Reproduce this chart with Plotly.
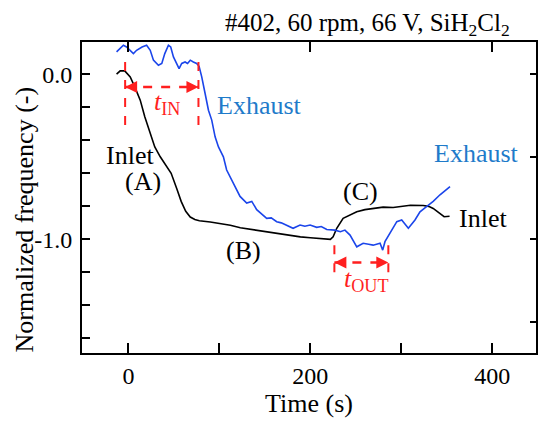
import plotly.graph_objects as go

# ---------------- data ----------------
inlet_t = [-13, -9, -4, 2, 7, 13, 18, 24, 29, 35, 42, 47, 53, 58, 63, 68, 73, 78, 90, 101,
           112, 123, 135, 148, 160, 175, 189, 200, 212, 222, 225, 229, 236, 244, 251, 260,
           269, 280, 291, 300, 310, 324, 330, 335, 342, 347, 353]
inlet_v = [0.0, 0.02, 0.02, -0.016, -0.077, -0.157, -0.258, -0.359, -0.44, -0.50, -0.555,
           -0.60, -0.69, -0.77, -0.83, -0.865, -0.88, -0.887, -0.895, -0.903, -0.915, -0.93,
           -0.94, -0.955, -0.965, -0.975, -0.985, -0.99, -0.995, -1.0, -0.984, -0.933, -0.873,
           -0.85, -0.833, -0.82, -0.813, -0.805, -0.807, -0.80, -0.793, -0.795, -0.80, -0.813,
           -0.843, -0.863, -0.86]

exhaust_t = [-13, -9, -5.5, -2, 2, 5.5, 9, 15, 20, 24, 27.5, 33, 36.7, 40, 44, 46.5, 49.5,
             53, 55.7, 58.6, 62.3, 65, 68, 71.4, 75, 77.7, 80.6, 84.3, 88, 91.6, 95.3, 99,
             104.4, 108, 115.4, 122.7, 130, 135.6, 141, 146, 152, 157, 163, 168, 174, 181,
             188.7, 194, 199.7, 207, 212, 218, 227, 233, 238, 243.6, 251, 258, 264, 269,
             276.6, 279.5, 282, 287.6, 295, 300.4, 307.7, 315, 320.5, 328, 335, 342.5, 353.5]
exhaust_v = [0.135, 0.155, 0.175, 0.165, 0.145, 0.125, 0.145, 0.165, 0.175, 0.145, 0.085,
             0.054, 0.065, 0.125, 0.175, 0.165, 0.105, 0.065, 0.034, 0.065, 0.074, 0.065,
             0.085, 0.074, 0.065, 0.048, -0.016, -0.117, -0.218, -0.278, -0.379, -0.44,
             -0.50, -0.58, -0.66, -0.74, -0.78, -0.77, -0.82, -0.845, -0.873, -0.87, -0.893,
             -0.90, -0.913, -0.933, -0.913, -0.92, -0.913, -0.927, -0.922, -0.94, -0.944,
             -0.954, -0.944, -0.974, -1.045, -1.024, -1.03, -1.035, -1.024, -1.065, -1.014,
             -0.964, -0.893, -0.883, -0.933, -0.883, -0.833, -0.80, -0.77, -0.73, -0.68]

x_ticks = [0, 200, 400]
x_tick_labels = ["0", "200", "400"]
y_ticks = [0.0, -1.0]
y_tick_labels = ["0.0", "-1.0"]
y_right_ticks = [0.0, -0.5, -1.0, -1.5]

t_in = [-3.6, 77]        # start/end of t_IN interval
t_in_span = [0.074, -0.309]
t_in_arrow_v = -0.077
t_out = [226.4, 285.7]   # start/end of t_OUT interval
t_out_span = [-1.035, -1.206]
t_out_arrow_v = -1.14

X_RANGE = [-51, 448]
Y_RANGE = [-1.688, 0.195]

FONT = "Liberation Serif"
BLUE_LINE = "#1b45ea"
BLUE_TEXT = "#1f7bca"
RED = "#ff1f1f"

fig = go.Figure()
fig.add_trace(go.Scatter(x=inlet_t, y=inlet_v, mode="lines",
                         line=dict(color="black", width=1.6), showlegend=False))
fig.add_trace(go.Scatter(x=exhaust_t, y=exhaust_v, mode="lines",
                         line=dict(color=BLUE_LINE, width=1.6), showlegend=False))
# invisible trace for the secondary (tick-only) axes
fig.add_trace(go.Scatter(x=[0], y=[0], xaxis="x2", yaxis="y2", mode="markers",
                         marker=dict(opacity=0), showlegend=False, hoverinfo="skip"))

# dashed interval markers
for (ta, tb), (va, vb), va_arrow in [(t_in, t_in_span, t_in_arrow_v),
                                     (t_out, t_out_span, t_out_arrow_v)]:
    for tx in (ta, tb):
        fig.add_shape(type="line", x0=tx, x1=tx, y0=va, y1=vb, xref="x", yref="y",
                      line=dict(color=RED, width=2, dash="dash"))
    fig.add_shape(type="line", x0=ta, x1=tb, y0=va_arrow, y1=va_arrow, xref="x", yref="y",
                  line=dict(color=RED, width=2.5, dash="dash"))
    fig.add_annotation(x=ta, y=va_arrow, ax=12, ay=0, text="", showarrow=True,
                       arrowhead=2, arrowsize=1.2, arrowwidth=2, arrowcolor=RED)
    fig.add_annotation(x=tb, y=va_arrow, ax=-12, ay=0, text="", showarrow=True,
                       arrowhead=2, arrowsize=1.2, arrowwidth=2, arrowcolor=RED)

def label(x, y, text, color="black", size=26, xanchor="center"):
    fig.add_annotation(x=x, y=y, text=text, showarrow=False, xanchor=xanchor,
                       font=dict(family=FONT, size=size, color=color))

label(95, -0.19, "Exhaust", BLUE_TEXT, xanchor="left")
label(432, -0.48, "Exhaust", BLUE_TEXT, xanchor="right")
label(2, -0.49, "Inlet")
label(16.5, -0.65, "(A)")
label(126, -1.065, "(B)")
label(255, -0.71, "(C)")
label(361, -0.873, "Inlet", xanchor="left")
label(42, -0.175, "<i>t</i><sub>IN</sub>", RED)
label(262, -1.245, "<i>t</i><sub>OUT</sub>", RED)

fig.add_annotation(xref="paper", yref="paper", x=0.948, y=1.0, yanchor="bottom",
                   xanchor="right", showarrow=False, yshift=0,
                   text="#402, 60 rpm, 66 V, SiH<sub>2</sub>Cl<sub>2</sub>",
                   font=dict(family=FONT, size=25, color="black"))

# y-axis title placed explicitly
fig.add_annotation(xref="paper", yref="paper", x=0, y=0.5, xanchor="center",
                   yanchor="middle", xshift=-58, yshift=-22, textangle=-90,
                   showarrow=False, text="Normalized frequency (-)",
                   font=dict(family=FONT, size=26, color="black"))

axis_common = dict(showgrid=False, zeroline=False, ticks="inside", tickcolor="black",
                   tickwidth=1.5, automargin=False,
                   tickfont=dict(family=FONT, size=24, color="black"))

fig.update_layout(
    width=538, height=424,
    margin=dict(l=82, r=2, t=42, b=71),
    paper_bgcolor="white", plot_bgcolor="white",
    font=dict(family=FONT, color="black"),
    xaxis=dict(range=X_RANGE, tickvals=x_ticks, ticktext=x_tick_labels, ticklen=10,
               showline=True, linecolor="black", linewidth=2, mirror=True,
               minor=dict(tickvals=[100, 300], ticks="inside", ticklen=10,
                          tickcolor="black", tickwidth=1.5),
               title=dict(text="Time (s)", font=dict(family=FONT, size=26), standoff=6),
               **axis_common),
    yaxis=dict(range=Y_RANGE, tickvals=y_ticks, ticktext=y_tick_labels, ticklen=8,
               showline=True, linecolor="black", linewidth=2, mirror=True,
               ticklabelstandoff=3,
               minor=dict(dtick=0.2, tick0=0, ticks="inside", ticklen=8,
                          tickcolor="black", tickwidth=1.5),
               **axis_common),
    xaxis2=dict(range=X_RANGE, overlaying="x", side="top", anchor="y", tickvals=x_ticks,
                showticklabels=False, ticklen=10, showline=False, **axis_common),
    yaxis2=dict(range=Y_RANGE, overlaying="y", side="right", anchor="x", tickvals=y_right_ticks,
                showticklabels=False, ticklen=6, showline=False, **axis_common),
)

fig.write_html("out.html", post_script="document.body.style.margin='0';",
               config={"displayModeBar": False})
